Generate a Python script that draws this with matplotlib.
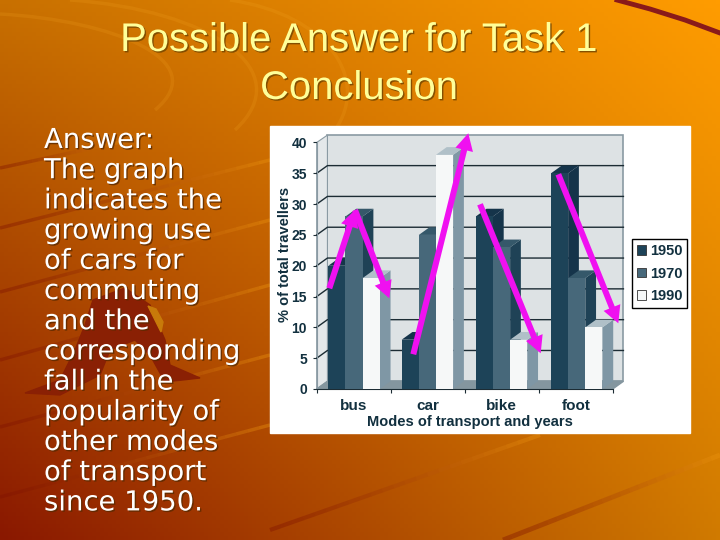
import numpy as np
from matplotlib import pyplot
from matplotlib import patheffects
from matplotlib.patches import FancyArrow, PathPatch, Polygon, Rectangle
from matplotlib.path import Path

modes = ["bus", "car", "bike", "foot"]
years = ["1950", "1970", "1990"]
share_1950 = [20, 8, 28, 35]
share_1970 = [28, 25, 23, 18]
share_1990 = [18, 38, 8, 10]
y_ticks = [0, 5, 10, 15, 20, 25, 30, 35, 40]

title_lines = ["Possible Answer for Task 1", "Conclusion"]
answer_lines = [
    "Answer:",
    "The graph",
    "indicates the",
    "growing use",
    "of cars for",
    "commuting",
    "and the",
    "corresponding",
    "fall in the",
    "popularity of",
    "other modes",
    "of transport",
    "since 1950.",
]

front_colors = ["#1d4358", "#47687a", "#f6f8f8"]
side_colors = ["#15344a", "#1f4256", "#7f97a5"]
top_colors = ["#15344a", "#35586a", "#b0c0c8"]
LABEL_FONT = "Liberation Sans"
INK = "#12303f"

figure = pyplot.figure(figsize=(7.2, 5.4), dpi=100)

# slide background, drawn in pixel coordinates
bg = figure.add_axes([0, 0, 1, 1], zorder=0)
bg.axis("off")

u, v = np.meshgrid(np.linspace(0, 1, 180), np.linspace(0, 1, 135))
corners = np.array(
    [[0xC8, 0x70, 0x00], [0xFF, 0x9C, 0x00], [0x8A, 0x18, 0x00], [0xD0, 0x7A, 0x00]]
) / 255
gradient = np.zeros(u.shape + (3,))
for c in range(3):
    gradient[..., c] = (
        corners[0, c] * (1 - u) * (1 - v)
        + corners[1, c] * u * (1 - v)
        + corners[2, c] * (1 - u) * v
        + corners[3, c] * u * v
    )
bg.imshow(gradient, extent=(0, 720, 540, 0), aspect="auto", zorder=0)
bg.set_xlim(0, 720)
bg.set_ylim(540, 0)

# streaks fade from dark red on the left to light orange on the right
streaks = [
    (0, 168, 130, 140, 2.5),
    (0, 228, 270, 160, 2.5),
    (0, 292, 270, 220, 2.5),
    (0, 360, 270, 285, 2.5),
    (0, 427, 270, 355, 2.5),
    (0, 497, 270, 425, 2.5),
    (270, 530, 540, 435, 3),
    (503, 540, 720, 455, 3.5),
]
dark = np.array([0x80, 0x12, 0x00]) / 255
light = np.array([0xF0, 0x98, 0x10]) / 255
for x0, y0, x1, y1, lw in streaks:
    for i in range(24):
        t0, t1 = i / 24, (i + 1) / 24
        mix = t0 ** 1.3
        bg.plot(
            [x0 + (x1 - x0) * t0, x0 + (x1 - x0) * t1],
            [y0 + (y1 - y0) * t0, y0 + (y1 - y0) * t1],
            color=dark * (1 - mix) + light * mix,
            alpha=0.4,
            lw=lw,
            solid_capstyle="butt",
            zorder=1,
        )

# pale curved lines behind the title
arcs = [
    [(0, 14), (110, 20), (215, 60), (155, 110)],
    [(70, 0), (210, 10), (300, 70), (235, 130)],
    [(230, 0), (330, 15), (370, 80), (335, 130)],
]
for arc in arcs:
    bg.add_patch(PathPatch(
        Path(arc, [Path.MOVETO, Path.CURVE4, Path.CURVE4, Path.CURVE4]),
        facecolor="none", edgecolor="#f5a623", alpha=0.18, lw=2.5, zorder=1,
    ))
bg.plot([617, 650, 685, 720], [0, 9, 20, 33], color="#8a1a1a", lw=3.5, zorder=1)

# runner silhouette behind the text
bg.add_patch(Polygon(
    [(93, 300), (125, 288), (150, 305), (165, 340), (170, 365), (200, 378), (165, 382),
     (150, 355), (135, 340), (110, 350), (100, 375), (60, 395), (25, 393), (60, 380),
     (75, 350), (85, 325)],
    closed=True, color="#8a2004", zorder=1,
))
bg.add_patch(Polygon(
    [(148, 306), (156, 309), (163, 322), (161, 332), (154, 318)],
    closed=True, color="#c87a0a", zorder=1,
))

title_y = [40, 88]
for line, y in zip(title_lines, title_y):
    bg.text(
        359, y, line, ha="center", va="center", fontsize=28.8, color="#ffff99",
        family="Liberation Sans", zorder=2,
        path_effects=[patheffects.withSimplePatchShadow(offset=(1, -1), shadow_rgbFace="#7a4a00", alpha=0.9)],
    )
for i, line in enumerate(answer_lines):
    bg.text(
        44, 148 + i * 30.2, line, ha="left", va="baseline", fontsize=19.8, color="white",
        family="DejaVu Sans", zorder=2,
        path_effects=[patheffects.withSimplePatchShadow(offset=(1, -1), shadow_rgbFace="#5a2a00", alpha=0.8)],
    )

bg.add_patch(Rectangle((270, 126), 420, 307, color="white", zorder=2))

# chart, front plane of the pseudo 3D box
ax = figure.add_axes([316.7 / 720, (540 - 389) / 540, 296 / 720, 246.5 / 540], zorder=1)
ax.patch.set_alpha(0)
ax.set_xlim(0, 4)
ax.set_ylim(0, 40)
depth_x = 0.145
depth_y = 1.25
wall_top = 41.2

ax.add_patch(Polygon(
    [(depth_x, depth_y), (4 + depth_x, depth_y), (4 + depth_x, wall_top), (depth_x, wall_top)],
    closed=True, facecolor="#dde2e4", edgecolor="#8a9aa3", lw=1.2, clip_on=False, zorder=1,
))
ax.add_patch(Polygon(
    [(0, 0), (depth_x, depth_y), (depth_x, wall_top), (0, 40)],
    closed=True, facecolor="#e4e8ea", edgecolor="#8a9aa3", lw=0.8, clip_on=False, zorder=1,
))
ax.add_patch(Polygon(
    [(0, 0), (4, 0), (4 + depth_x, depth_y), (depth_x, depth_y)],
    closed=True, facecolor="#84969f", edgecolor="#84969f", clip_on=False, zorder=1,
))
for tick in y_ticks[1:-1]:
    ax.plot([0, depth_x, 4 + depth_x], [tick, tick + depth_y, tick + depth_y],
            color="#1c2c34", lw=1, clip_on=False, zorder=2)

bar_width = 0.232
for m in range(len(modes)):
    start = [0.157, 1.148, 2.15, 3.166][m]
    for s, values in enumerate([share_1950, share_1970, share_1990]):
        left = start + s * bar_width
        right = left + bar_width
        h = values[m]
        ax.bar(left, h, width=bar_width, align="edge", color=front_colors[s],
               label=years[s] if m == 0 else None, zorder=3 + s * 3)
        ax.add_patch(Polygon(
            [(right, 0), (right + depth_x, depth_y), (right + depth_x, h + depth_y), (right, h)],
            closed=True, color=side_colors[s], lw=0, clip_on=False, zorder=2.5 + s * 3,
        ))
        ax.add_patch(Polygon(
            [(left, h), (right, h), (right + depth_x, h + depth_y), (left + depth_x, h + depth_y)],
            closed=True, color=top_colors[s], lw=0, clip_on=False, zorder=2.5 + s * 3,
        ))

for side in ["top", "right"]:
    ax.spines[side].set_visible(False)
for side in ["left", "bottom"]:
    ax.spines[side].set_color("#8a9aa3")
    ax.spines[side].set_zorder(2)
ax.spines["bottom"].set_color("#1c2c34")

ax.set_yticks(y_ticks)
ax.set_yticklabels(y_ticks, family=LABEL_FONT, fontsize=10, fontweight="bold", color=INK)
ax.set_xticks(range(5))
ax.set_xticklabels([])
ax.set_xticks([0.5, 1.5, 2.5, 3.5], modes, minor=True, family=LABEL_FONT, fontsize=11,
              fontweight="bold", color=INK)
ax.tick_params(axis="x", which="minor", length=0, pad=7)
ax.tick_params(axis="both", which="major", length=3, color="#1c2c34", pad=4)
ax.set_xlabel("Modes of transport and years", family=LABEL_FONT, fontsize=10.5, fontweight="bold",
              color=INK, va="center")
ax.xaxis.set_label_coords(0.518, -0.133)
ax.set_ylabel("% of total travellers", family=LABEL_FONT, fontsize=10.5, fontweight="bold",
              color=INK, va="center")
ax.yaxis.set_label_coords(-0.107, 0.544)

legend = ax.legend(
    loc="lower left", bbox_to_anchor=(632.3 / 720, (540 - 307.7) / 540),
    bbox_transform=figure.transFigure, fancybox=False, edgecolor="black", framealpha=1,
    prop={"family": LABEL_FONT, "weight": "bold", "size": 10.5}, labelcolor=INK,
    handlelength=0.65, handleheight=0.65, handletextpad=0.3, labelspacing=0.6,
    borderpad=0.3, borderaxespad=0,
)
legend.set_zorder(30)
for handle in legend.legend_handles:
    handle.set_edgecolor("#333333")
    handle.set_linewidth(0.6)

# magenta trend arrows on top of everything
overlay = figure.add_axes([0, 0, 1, 1], zorder=2)
overlay.set_xlim(0, 720)
overlay.set_ylim(540, 0)
overlay.axis("off")
trend_arrows = [
    (329.3, 288.3, 355, 210),
    (355, 210, 389.3, 298.3),
    (413.3, 354.3, 468.3, 133.3),
    (480, 204.3, 540.7, 353.3),
    (558.3, 174.3, 618.3, 323.3),
]
for x0, y0, x1, y1 in trend_arrows:
    overlay.add_patch(FancyArrow(
        x0, y0, x1 - x0, y1 - y0, width=6, head_width=18, head_length=17,
        length_includes_head=True, color="#f010f0", lw=0,
    ))

pyplot.savefig("out.png", dpi=100)
